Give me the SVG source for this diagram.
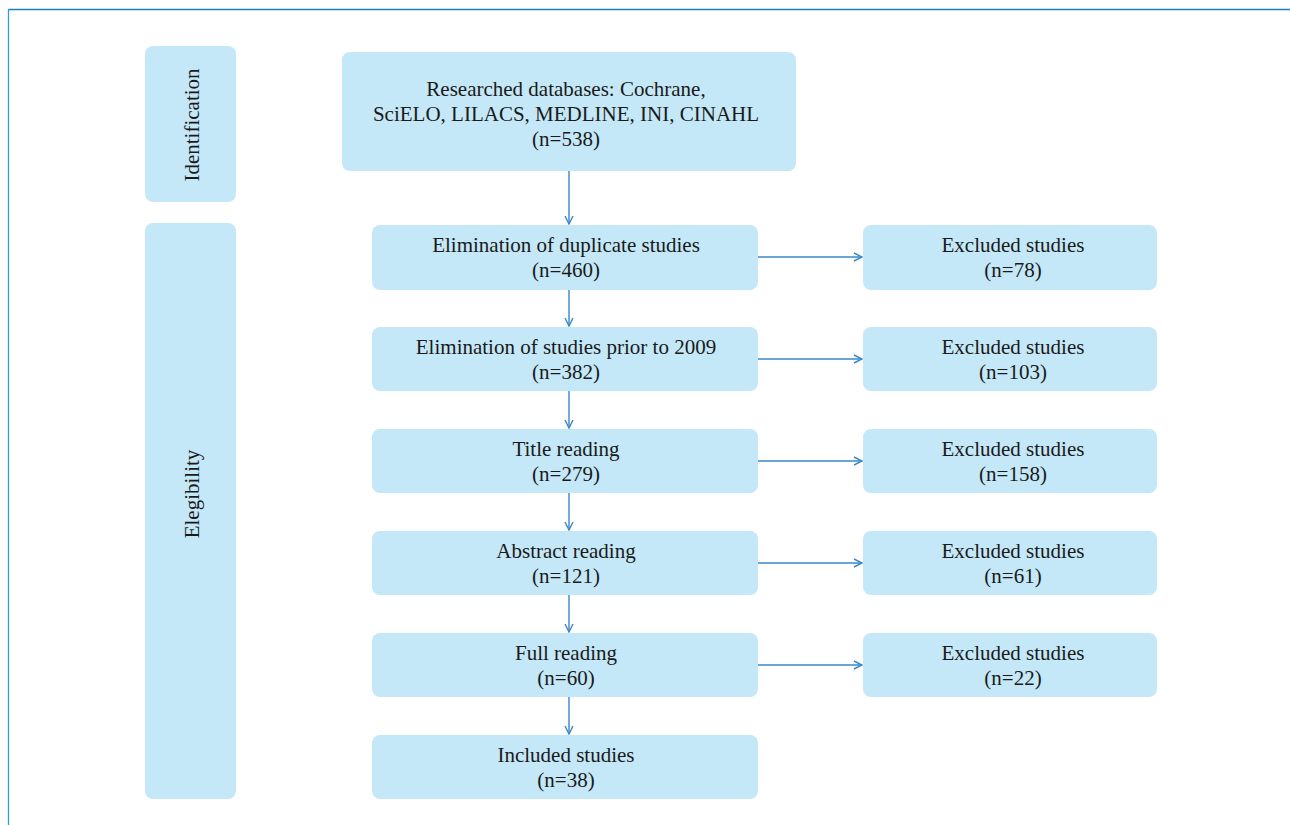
<svg xmlns="http://www.w3.org/2000/svg" width="1290" height="825" viewBox="0 0 1290 825">
<style>
.box{fill:#c4e8f7;}
.t{font-family:"Liberation Serif",serif;font-size:21px;fill:#1a1a1a;text-anchor:middle;}
.c{stroke:#3a87c8;stroke-width:1.4;fill:none;}
</style>
<defs>
<marker id="ah" viewBox="0 0 10 10" refX="9" refY="5" markerWidth="10" markerHeight="10" markerUnits="userSpaceOnUse" orient="auto">
<path d="M1,1 L9,5 L1,9" fill="none" stroke="#3a87c8" stroke-width="1.4"/>
</marker>
</defs>
<rect width="1290" height="825" fill="#ffffff"/>
<g id="frame">
<line x1="8.5" y1="9.5" x2="1290" y2="9.5" stroke="#1b7fb8" stroke-width="1.3"/>
<line x1="8.5" y1="9" x2="8.5" y2="825" stroke="#2a9fd6" stroke-width="1.3"/>
</g>
<g id="identification">
<rect class="box" x="145" y="46" width="91" height="156" rx="8"/>
<text class="t" transform="translate(199,125) rotate(-90)">Identification</text>
</g>
<g id="elegibility">
<rect class="box" x="145" y="223" width="91" height="576" rx="8"/>
<text class="t" transform="translate(199,494) rotate(-90)">Elegibility</text>
</g>
<g id="databases">
<rect class="box" x="342" y="52" width="454" height="119" rx="8"/>
<text class="t" x="566" y="96">Researched databases: Cochrane,</text>
<text class="t" x="566" y="121">SciELO, LILACS, MEDLINE, INI, CINAHL</text>
<text class="t" x="566" y="146">(n=538)</text>
</g>
<g id="duplicates">
<rect class="box" x="372" y="225" width="386" height="65" rx="8"/>
<text class="t" x="566" y="252">Elimination of duplicate studies</text>
<text class="t" x="566" y="277">(n=460)</text>
</g>
<g id="prior2009">
<rect class="box" x="372" y="327" width="386" height="64" rx="8"/>
<text class="t" x="566" y="354">Elimination of studies prior to 2009</text>
<text class="t" x="566" y="379">(n=382)</text>
</g>
<g id="title">
<rect class="box" x="372" y="429" width="386" height="64" rx="8"/>
<text class="t" x="566" y="456">Title reading</text>
<text class="t" x="566" y="481">(n=279)</text>
</g>
<g id="abstract">
<rect class="box" x="372" y="531" width="386" height="64" rx="8"/>
<text class="t" x="566" y="558">Abstract reading</text>
<text class="t" x="566" y="583">(n=121)</text>
</g>
<g id="full">
<rect class="box" x="372" y="633" width="386" height="64" rx="8"/>
<text class="t" x="566" y="660">Full reading</text>
<text class="t" x="566" y="685">(n=60)</text>
</g>
<g id="included">
<rect class="box" x="372" y="735" width="386" height="64" rx="8"/>
<text class="t" x="566" y="762">Included studies</text>
<text class="t" x="566" y="787">(n=38)</text>
</g>
<g id="excl1">
<rect class="box" x="863" y="225" width="294" height="65" rx="8"/>
<text class="t" x="1013" y="252">Excluded studies</text>
<text class="t" x="1013" y="277">(n=78)</text>
</g>
<g id="excl2">
<rect class="box" x="863" y="327" width="294" height="64" rx="8"/>
<text class="t" x="1013" y="354">Excluded studies</text>
<text class="t" x="1013" y="379">(n=103)</text>
</g>
<g id="excl3">
<rect class="box" x="863" y="429" width="294" height="64" rx="8"/>
<text class="t" x="1013" y="456">Excluded studies</text>
<text class="t" x="1013" y="481">(n=158)</text>
</g>
<g id="excl4">
<rect class="box" x="863" y="531" width="294" height="64" rx="8"/>
<text class="t" x="1013" y="558">Excluded studies</text>
<text class="t" x="1013" y="583">(n=61)</text>
</g>
<g id="excl5">
<rect class="box" x="863" y="633" width="294" height="64" rx="8"/>
<text class="t" x="1013" y="660">Excluded studies</text>
<text class="t" x="1013" y="685">(n=22)</text>
</g>
<g id="connectors">
<line class="c" x1="569" y1="171" x2="569" y2="224" marker-end="url(#ah)"/>
<line class="c" x1="569" y1="290" x2="569" y2="326" marker-end="url(#ah)"/>
<line class="c" x1="569" y1="391" x2="569" y2="428" marker-end="url(#ah)"/>
<line class="c" x1="569" y1="493" x2="569" y2="530" marker-end="url(#ah)"/>
<line class="c" x1="569" y1="595" x2="569" y2="632" marker-end="url(#ah)"/>
<line class="c" x1="569" y1="697" x2="569" y2="734" marker-end="url(#ah)"/>
<line class="c" x1="758" y1="257" x2="862" y2="257" marker-end="url(#ah)"/>
<line class="c" x1="758" y1="359" x2="862" y2="359" marker-end="url(#ah)"/>
<line class="c" x1="758" y1="461" x2="862" y2="461" marker-end="url(#ah)"/>
<line class="c" x1="758" y1="563" x2="862" y2="563" marker-end="url(#ah)"/>
<line class="c" x1="758" y1="665" x2="862" y2="665" marker-end="url(#ah)"/>
</g>
</svg>
